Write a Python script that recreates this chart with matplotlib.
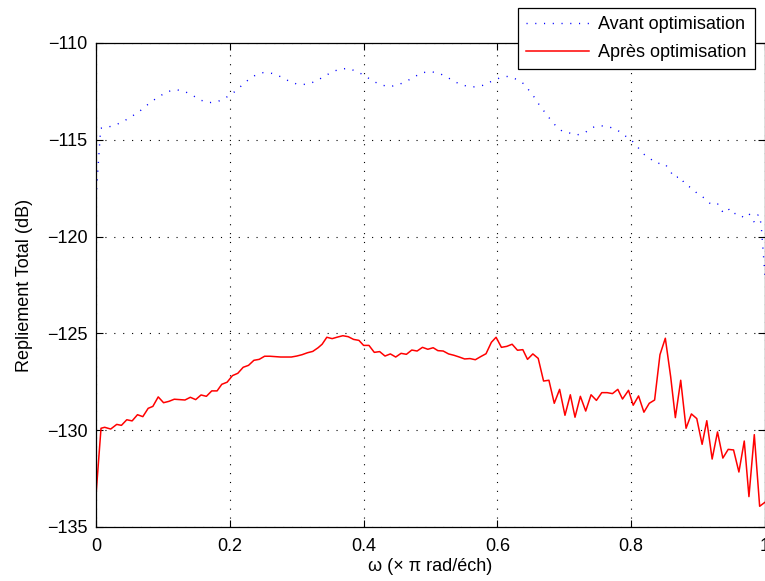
import matplotlib
matplotlib.use("Agg")
import matplotlib.pyplot as plt

plt.rcParams['font.family'] = ['Liberation Sans', 'DejaVu Sans']
plt.rcParams['axes.unicode_minus'] = True

# Avant optimisation (blue, dotted)
w_avant = [0.0, 0.007, 0.015, 0.028, 0.041, 0.052, 0.064, 0.074, 0.084, 0.0955,
           0.107, 0.12, 0.133, 0.145, 0.157, 0.17, 0.183, 0.195, 0.206, 0.216,
           0.226, 0.237, 0.25, 0.263, 0.276, 0.288, 0.30, 0.314, 0.327, 0.339,
           0.351, 0.363, 0.377, 0.389, 0.401, 0.413, 0.425, 0.438, 0.451, 0.464,
           0.475, 0.488, 0.501, 0.514, 0.527, 0.538, 0.551, 0.564, 0.578, 0.59,
           0.603, 0.616, 0.629, 0.64, 0.648, 0.656, 0.663, 0.671, 0.679, 0.687,
           0.697, 0.708, 0.719, 0.731, 0.741, 0.753, 0.766, 0.779, 0.789, 0.80,
           0.809, 0.817, 0.828, 0.837, 0.85, 0.858, 0.864, 0.874, 0.88, 0.891,
           0.90, 0.911, 0.919, 0.929, 0.936, 0.944, 0.951, 0.958, 0.964, 0.97,
           0.977, 0.984, 0.99, 0.994, 1.0]
db_avant = [-118.0, -114.4, -114.37, -114.25, -114.05, -113.82, -113.56, -113.27, -113.0, -112.74,
            -112.51, -112.41, -112.51, -112.72, -112.96, -113.08, -113.01, -112.8, -112.55, -112.25,
            -111.95, -111.69, -111.53, -111.57, -111.74, -111.96, -112.12, -112.14, -112.0, -111.77,
            -111.53, -111.36, -111.31, -111.46, -111.67, -111.95, -112.15, -112.26, -112.17, -111.98,
            -111.76, -111.53, -111.48, -111.58, -111.81, -112.03, -112.2, -112.27, -112.19, -112.0,
            -111.81, -111.72, -111.88, -112.12, -112.48, -112.84, -113.22, -113.58, -113.94, -114.27,
            -114.56, -114.65, -114.75, -114.63, -114.37, -114.27, -114.32, -114.49, -114.75, -115.01,
            -115.34, -115.7, -115.96, -116.21, -116.23, -116.58, -116.96, -116.9, -117.3, -117.5,
            -117.82, -118.04, -118.33, -118.3, -118.7, -118.5, -118.85, -118.78, -118.92, -119.05,
            -118.85, -119.26, -118.85, -119.3, -122.0]

# Après optimisation (red, solid)
w_apres = [0.0, 0.0075, 0.013, 0.022, 0.031, 0.038, 0.046, 0.054, 0.062, 0.07,
           0.078, 0.085, 0.093, 0.101, 0.109, 0.117, 0.125, 0.133, 0.141, 0.149,
           0.157, 0.165, 0.173, 0.181, 0.188, 0.196, 0.204, 0.212, 0.22, 0.228,
           0.236, 0.244, 0.252, 0.26, 0.268, 0.276, 0.284, 0.292, 0.30, 0.308,
           0.316, 0.324, 0.332, 0.338, 0.345, 0.353, 0.361, 0.369, 0.377, 0.385,
           0.393, 0.40, 0.408, 0.416, 0.424, 0.432, 0.44, 0.448, 0.456, 0.464,
           0.472, 0.48, 0.488, 0.496, 0.504, 0.511, 0.519, 0.527, 0.535, 0.543,
           0.551, 0.559, 0.567, 0.575, 0.583, 0.591, 0.598, 0.606, 0.614, 0.622,
           0.63, 0.638, 0.645, 0.653, 0.661, 0.669, 0.677, 0.685, 0.693, 0.701,
           0.709, 0.716, 0.724, 0.732, 0.74, 0.748, 0.756, 0.764, 0.772, 0.78,
           0.787, 0.796, 0.803, 0.811, 0.819, 0.827, 0.835, 0.843, 0.851, 0.859,
           0.866, 0.874, 0.882, 0.89, 0.898, 0.906, 0.913, 0.921, 0.929, 0.937,
           0.945, 0.953, 0.961, 0.969, 0.976, 0.984, 0.992, 1.0]
db_apres = [-133.35, -129.9, -129.85, -129.94, -129.7, -129.75, -129.46, -129.52, -129.2, -129.3,
            -128.87, -128.77, -128.28, -128.58, -128.51, -128.4, -128.42, -128.44, -128.3, -128.42,
            -128.18, -128.25, -127.97, -127.97, -127.63, -127.52, -127.18, -127.06, -126.75, -126.65,
            -126.39, -126.34, -126.18, -126.18, -126.2, -126.22, -126.22, -126.22, -126.17, -126.1,
            -126.0, -125.93, -125.74, -125.56, -125.2, -125.27, -125.19, -125.12, -125.17, -125.31,
            -125.36, -125.62, -125.62, -125.98, -125.94, -126.17, -126.06, -126.22, -126.03, -126.08,
            -125.86, -125.91, -125.72, -125.82, -125.74, -125.89, -125.91, -126.06, -126.13, -126.22,
            -126.32, -126.3, -126.36, -126.2, -126.05, -125.46, -125.2, -125.72, -125.67, -125.56,
            -125.87, -125.84, -126.34, -126.06, -126.29, -127.46, -127.42, -128.61, -127.89, -129.23,
            -128.17, -129.33, -128.25, -129.01, -128.17, -128.46, -128.06, -128.06, -128.11, -127.89,
            -128.39, -127.94, -128.71, -128.23, -129.07, -128.61, -128.44, -126.1, -125.25, -127.24,
            -129.35, -127.42, -129.9, -129.16, -129.4, -130.73, -129.51, -131.49, -130.09, -131.44,
            -130.99, -131.02, -132.16, -130.56, -133.43, -130.23, -133.93, -133.72]

xticks = [0, 0.2, 0.4, 0.6, 0.8, 1]
xticklabels = ['0', '0.2', '0.4', '0.6', '0.8', '1']
yticks = [-135, -130, -125, -120, -115, -110]

fig = plt.figure(figsize=(7.65, 5.81), dpi=100)
ax = fig.add_axes([96 / 765, 54 / 581, 669 / 765, 484 / 581])

ax.plot(w_avant, db_avant, linestyle=(0, (0.8, 5.5)), color='blue', linewidth=1.0,
        label='Avant optimisation')
ax.plot(w_apres, db_apres, linestyle='-', color='red', linewidth=1.1,
        label='Après optimisation')

ax.set_xlim(0, 1)
ax.set_ylim(-135, -110)
ax.set_xticks(xticks)
ax.set_xticklabels(xticklabels)
ax.set_yticks(yticks)
ax.tick_params(direction='in', top=True, right=True, length=5, width=0.8,
               labelsize=13, pad=6)
ax.tick_params(axis='x', pad=8)
ax.grid(True, linestyle=(0, (1, 7)), color='black', linewidth=0.8)
for s in ax.spines.values():
    s.set_linewidth(0.9)

ax.set_xlabel('ω (× π rad/éch)', fontsize=13)
ax.set_ylabel('Repliement Total (dB)', fontsize=13)
ax.xaxis.set_label_coords(0.5, (527 - 558) / 484)
ax.yaxis.set_label_coords((33 - 96) / 669, 0.5)

leg = fig.legend(loc='upper right', bbox_to_anchor=(755 / 765, 1 - 8 / 581),
                 fontsize=13, fancybox=False, framealpha=1, edgecolor='black',
                 handlelength=3.5, labelspacing=0.6, borderpad=0.45,
                 handletextpad=0.5, borderaxespad=0)
leg.get_frame().set_linewidth(0.9)

plt.savefig('out.png', dpi=100)
